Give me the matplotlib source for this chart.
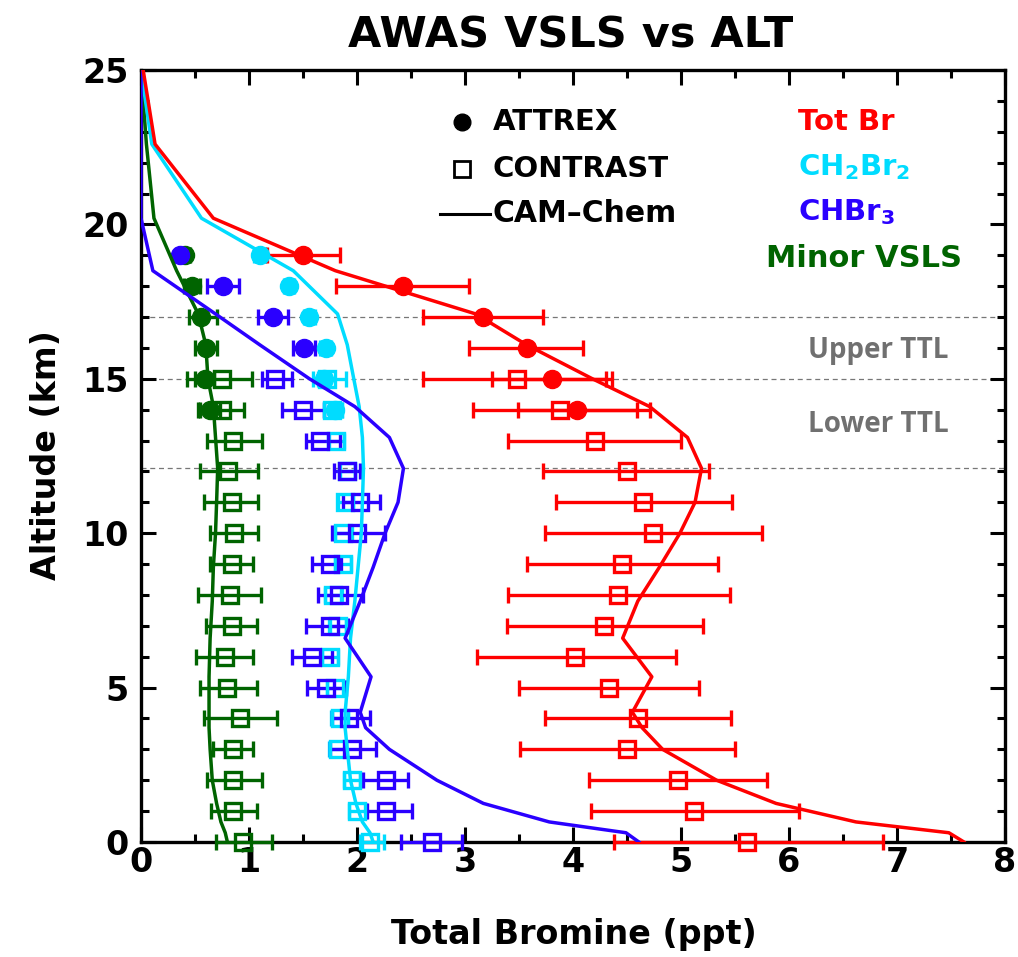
import matplotlib
matplotlib.use('Agg')
import matplotlib.pyplot as plt
import numpy as np

plt.rcParams['font.family'] = ['DejaVu Sans']
plt.rcParams['font.weight'] = 'bold'

# CONTRAST (squares), altitudes in km
alt_contrast = [0, 1, 2, 3, 4, 5, 6, 7, 8, 9, 10, 11, 12, 13, 14, 15]
totbr_c = [5.61, 5.12, 4.97, 4.50, 4.60, 4.33, 4.02, 4.29, 4.42, 4.45, 4.74, 4.65, 4.50, 4.20, 3.88, 3.48]
totbr_c_lo = [4.38, 4.17, 4.15, 3.51, 3.74, 3.50, 3.11, 3.39, 3.40, 3.57, 3.74, 3.84, 3.72, 3.40, 3.07, 2.61]
totbr_c_hi = [6.87, 6.09, 5.80, 5.50, 5.46, 5.17, 4.95, 5.20, 5.45, 5.34, 5.75, 5.47, 5.26, 5.00, 4.71, 4.36]

ch2br2_c = [2.12, 2.00, 1.95, 1.82, 1.84, 1.80, 1.75, 1.82, 1.78, 1.87, 1.87, 1.89, 1.91, 1.81, 1.77, 1.72]
ch2br2_c_lo = [2.03, 1.93, 1.88, 1.74, 1.76, 1.72, 1.68, 1.74, 1.70, 1.80, 1.80, 1.82, 1.84, 1.74, 1.69, 1.59]
ch2br2_c_hi = [2.25, 2.08, 2.03, 1.90, 1.92, 1.88, 1.82, 1.90, 1.86, 1.94, 1.95, 1.96, 1.98, 1.88, 1.86, 1.90]

chbr3_c = [2.69, 2.27, 2.27, 1.95, 1.93, 1.71, 1.58, 1.75, 1.83, 1.75, 2.00, 2.03, 1.91, 1.66, 1.50, 1.24]
chbr3_c_lo = [2.41, 2.09, 2.06, 1.75, 1.77, 1.54, 1.40, 1.53, 1.64, 1.58, 1.77, 1.87, 1.79, 1.53, 1.31, 1.12]
chbr3_c_hi = [2.97, 2.51, 2.47, 2.18, 2.12, 1.90, 1.77, 1.92, 2.06, 1.85, 2.26, 2.21, 2.03, 1.84, 1.69, 1.40]

minor_c = [0.94, 0.85, 0.85, 0.85, 0.92, 0.80, 0.78, 0.84, 0.82, 0.84, 0.86, 0.84, 0.81, 0.85, 0.75, 0.75]
minor_c_lo = [0.69, 0.65, 0.61, 0.67, 0.58, 0.55, 0.51, 0.60, 0.53, 0.64, 0.64, 0.58, 0.55, 0.61, 0.53, 0.43]
minor_c_hi = [1.21, 1.07, 1.12, 1.04, 1.26, 1.07, 1.04, 1.07, 1.11, 1.04, 1.08, 1.08, 1.08, 1.12, 0.95, 1.03]

# ATTREX (filled circles)
alt_attrex = [14, 15, 16, 17, 18, 19]
totbr_a = [4.04, 3.81, 3.57, 3.17, 2.43, 1.50]
totbr_a_lo = [3.49, 3.25, 3.04, 2.61, 1.81, 1.17]
totbr_a_hi = [4.59, 4.31, 4.09, 3.72, 3.04, 1.84]

ch2br2_a = [1.80, 1.69, 1.71, 1.56, 1.37, 1.10]
ch2br2_a_lo = [1.75, 1.64, 1.66, 1.51, 1.32, 1.05]
ch2br2_a_hi = [1.86, 1.75, 1.76, 1.61, 1.42, 1.15]

alt_attrex_b = [16, 17, 18, 19]
chbr3_a = [1.51, 1.22, 0.76, 0.36]
chbr3_a_lo = [1.41, 1.08, 0.61, 0.33]
chbr3_a_hi = [1.61, 1.36, 0.91, 0.40]

minor_a = [0.64, 0.59, 0.60, 0.56, 0.47, 0.41]
minor_a_lo = [0.55, 0.50, 0.50, 0.44, 0.40, 0.38]
minor_a_hi = [0.73, 0.68, 0.70, 0.70, 0.55, 0.45]

# CAM-Chem model profiles
alt_model = [0, 0.3, 0.65, 1.25, 2.0, 3.0, 3.7, 4.2, 5.35, 6.6, 7.8, 8.9, 10.0,
             11.0, 12.1, 13.1, 14.1, 15.0, 16.1, 17.1, 18.5, 20.2, 22.6, 25]
totbr_m = [7.62, 7.48, 6.62, 5.88, 5.33, 4.83, 4.64, 4.55, 4.73, 4.46, 4.60, 4.80, 4.99,
           5.13, 5.19, 5.06, 4.71, 4.18, 3.57, 3.10, 1.80, 0.67, 0.13, 0.02]
ch2br2_m = [2.15, 2.12, 2.05, 1.99, 1.94, 1.91, 1.89, 1.89, 1.92, 1.94, 1.98, 2.01, 2.04,
            2.05, 2.06, 2.05, 2.02, 1.97, 1.91, 1.82, 1.41, 0.56, 0.10, 0.0]
chbr3_m = [4.61, 4.49, 3.78, 3.17, 2.74, 2.30, 2.08, 2.03, 2.13, 1.89, 2.03, 2.15, 2.26,
           2.38, 2.43, 2.30, 1.98, 1.56, 1.10, 0.69, 0.11, 0.0, 0.0, 0.0]
minor_m = [0.80, 0.78, 0.74, 0.70, 0.66, 0.64, 0.63, 0.63, 0.63, 0.64, 0.66, 0.67, 0.69,
           0.70, 0.71, 0.69, 0.67, 0.62, 0.60, 0.53, 0.33, 0.12, 0.05, 0.0]

ttl_levels = [17, 15, 12.1]

RED = '#ff0000'
CYAN = '#00dcff'
BLUE = '#2a00ff'
GREEN = '#006400'

fig = plt.figure(figsize=(10.18, 9.57), dpi=100)
ax = fig.add_axes([141 / 1018, 115 / 957, 864 / 1018, 772 / 957])

for lv in ttl_levels:
    ax.axhline(lv, color='#777777', lw=0.9, dashes=(4, 3), zorder=1)

def xerr(v, lo, hi):
    v = np.array(v)
    return [v - np.array(lo), np.array(hi) - v]

def unclip(container):
    for art in container.get_children():
        art.set_clip_on(False)

series = [
    (GREEN, minor_c, minor_c_lo, minor_c_hi, alt_attrex, minor_a, minor_a_lo, minor_a_hi, minor_m),
    (CYAN, ch2br2_c, ch2br2_c_lo, ch2br2_c_hi, alt_attrex, ch2br2_a, ch2br2_a_lo, ch2br2_a_hi, ch2br2_m),
    (BLUE, chbr3_c, chbr3_c_lo, chbr3_c_hi, alt_attrex_b, chbr3_a, chbr3_a_lo, chbr3_a_hi, chbr3_m),
    (RED, totbr_c, totbr_c_lo, totbr_c_hi, alt_attrex, totbr_a, totbr_a_lo, totbr_a_hi, totbr_m),
]

for col, vc, lc, hc, alta, va, la, ha, vm in series:
    eb = ax.errorbar(vc, alt_contrast, xerr=xerr(vc, lc, hc), fmt='s', color=col,
                     mfc='none', mec=col, ms=12, mew=2.4, elinewidth=2.4,
                     capsize=6, capthick=2.4, zorder=3)
    unclip(eb)
    eb = ax.errorbar(va, alta, xerr=xerr(va, la, ha), fmt='o', color=col,
                     mfc=col, mec=col, ms=13, elinewidth=2.4,
                     capsize=6, capthick=2.4, zorder=3)
    unclip(eb)
    ax.plot(vm, alt_model, color=col, lw=2.5, zorder=4)

ax.set_xlim(0, 8)
ax.set_ylim(0, 25)
ax.set_xticks(range(0, 9))
ax.set_xticks(np.arange(0.5, 8, 1), minor=True)
ax.set_yticks(range(0, 26, 5))
ax.set_yticks(range(0, 26), minor=True)
ax.tick_params(which='both', direction='in', top=True, right=True, width=2.2)
ax.tick_params(which='major', length=11)
ax.tick_params(which='minor', length=5.5)
ax.tick_params(axis='x', which='major', labelsize=24, pad=3)
ax.tick_params(axis='y', which='major', labelsize=24, pad=9)
for lab in ax.get_xticklabels() + ax.get_yticklabels():
    lab.set_fontweight('bold')
for sp in ax.spines.values():
    sp.set_linewidth(2.4)

fig.text(0.561, 0.963, 'AWAS VSLS vs ALT', ha='center', va='center',
         fontsize=31, fontweight='bold')
fig.text(0.564, 0.023, 'Total Bromine (ppt)', ha='center', va='center',
         fontsize=24, fontweight='bold')
fig.text(0.046, 0.524, 'Altitude (km)', ha='center', va='center',
         rotation=90, fontsize=24, fontweight='bold')

# legend
tr = ax.transAxes
ax.plot([0.372], [0.933], 'o', color='black', ms=12, transform=tr, clip_on=False)
ax.plot([0.372], [0.872], 's', mfc='none', mec='black', mew=2, ms=11, transform=tr, clip_on=False)
ax.plot([0.346, 0.404], [0.814, 0.814], color='black', lw=2.2, transform=tr, clip_on=False)
ax.text(0.407, 0.933, 'ATTREX', transform=tr, va='center', fontsize=21, fontweight='bold')
ax.text(0.407, 0.872, 'CONTRAST', transform=tr, va='center', fontsize=21, fontweight='bold')
ax.text(0.407, 0.814, 'CAM\u2013Chem', transform=tr, va='center', fontsize=21.5, fontweight='bold')

ax.text(0.760, 0.933, 'Tot Br', transform=tr, va='center', fontsize=21,
        fontweight='bold', color=RED)
ax.text(0.760, 0.874, r'CH$_\mathbf{2}$Br$_\mathbf{2}$', transform=tr, va='center',
        fontsize=21, fontweight='bold', color=CYAN)
ax.text(0.760, 0.816, r'CHBr$_\mathbf{3}$', transform=tr, va='center', fontsize=21,
        fontweight='bold', color=BLUE)
ax.text(0.723, 0.756, 'Minor VSLS', transform=tr, va='center', fontsize=22,
        fontweight='bold', color=GREEN)

ax.text(0.772, 0.637, 'Upper TTL', transform=tr, va='center', fontsize=20,
        fontweight='bold', color='#707070', family=['Open Sans', 'DejaVu Sans'])
ax.text(0.772, 0.541, 'Lower TTL', transform=tr, va='center', fontsize=20,
        fontweight='bold', color='#707070', family=['Open Sans', 'DejaVu Sans'])

fig.savefig('out.png', dpi=100)
